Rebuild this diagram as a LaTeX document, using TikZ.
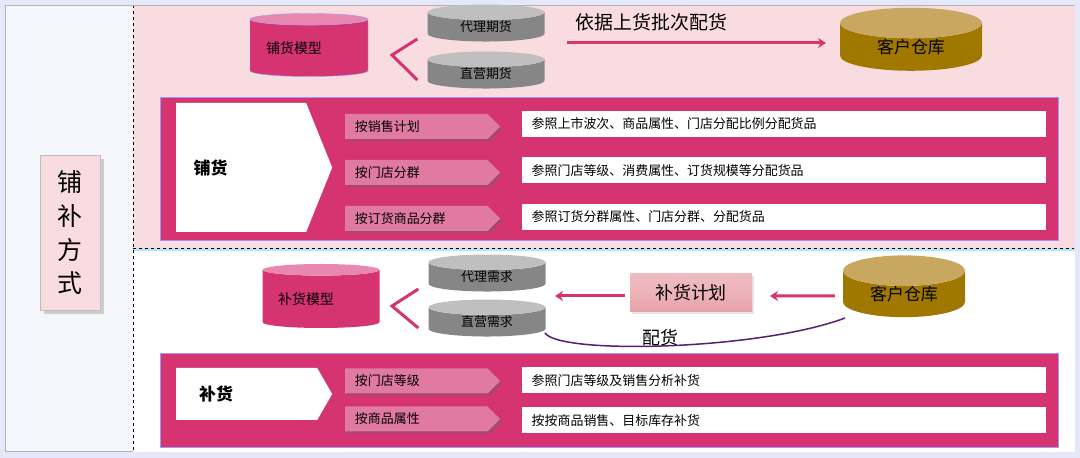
\documentclass[tikz,border=0pt]{standalone}
\usepackage{fontspec}
\setmainfont{Noto Sans CJK SC}
\usetikzlibrary{shapes.geometric,shapes.symbols,arrows.meta,shadows}
\definecolor{bg}{HTML}{E4E8F8}
\definecolor{toppink}{HTML}{F9DCE0}
\definecolor{band}{HTML}{D63371}
\definecolor{tab}{HTML}{E07AA0}
\definecolor{gold}{HTML}{A07800}
\definecolor{goldtop}{HTML}{C8A860}
\definecolor{pinktop}{HTML}{E888B0}
\definecolor{plan}{HTML}{E8A0A8}
\tikzset{
 cyl/.style={cylinder, shape border rotate=90, aspect=0.45, draw=none, cylinder uses custom fill, inner sep=0pt, font=\fontsize{14}{14}\selectfont},
 pinkcyl/.style={cyl, cylinder body fill=band, cylinder end fill=pinktop, draw=blue!40, thin},
 graycyl/.style={cyl, aspect=0.3, cylinder body fill=gray!95, cylinder end fill=gray!50, minimum width=117bp, font=\fontsize{13}{13}\selectfont},
 goldcyl/.style={cyl, cylinder body fill=gold, cylinder end fill=goldtop, font=\fontsize{17}{17}\selectfont},
 tabs/.style={signal, signal to=east, signal pointer angle=90, fill=tab, minimum width=155bp, minimum height=25bp, inner sep=0pt, anchor=west, text width=135bp, font=\fontsize{13}{13}\selectfont, drop shadow={shadow xshift=2bp, shadow yshift=-2bp, fill=black!60}},
 wbox/.style={fill=white, minimum width=524bp, minimum height=26bp, anchor=west, inner sep=0pt, text width=505bp, font=\fontsize{13}{13}\selectfont},
 pent/.style={signal, signal to=east, fill=white, inner sep=0pt, anchor=west, minimum width=156bp, text width=125bp, font=\bfseries\fontsize{17}{17}\selectfont},
 pkarrow/.style={draw=band, line width=3bp, -{Stealth[length=8bp,width=10bp]}},
 chev/.style={draw=band, line width=3bp},
}
\begin{document}
\begin{tikzpicture}[x=1bp,y=-1bp]
\useasboundingbox (0,0) rectangle (1080,458);
\fill[bg] (0,0) rectangle (1080,458);
\node[fill=white!60!bg, draw=gray!60, minimum width=128bp, minimum height=446bp, anchor=north west, inner sep=0pt] (left) at (5,5) {};
\node[fill=toppink, draw=gray!50, minimum width=60bp, minimum height=155bp, anchor=north west, drop shadow={shadow xshift=4bp, shadow yshift=-4bp, fill=gray!70}, text width=30bp, align=center, font=\fontsize{25}{34}\selectfont] (label) at (40,155) {铺\\补\\方\\式};
% sections
\node[fill=toppink, minimum width=942bp, minimum height=243bp, anchor=north west, inner sep=0pt] (top) at (133,5) {};
\fill[white] (133,250) rectangle (1075,452);
\draw[cyan!30, line width=3bp] (133,249.5) -- (1075,249.5);
\draw[dashed, thick] (133,248) -- (1075,248);
\draw[dashed, thick] (133,5) -- (133,452);
\draw[gray!60] (133,5) -- (1075,5);
% top diagram
\node[pinkcyl, minimum width=118bp, minimum height=63bp] (pm) at (309,48) {\hspace*{-30bp}铺货模型};
\node[graycyl, minimum height=37bp] (dq) at (486,27) {代理期货};
\node[graycyl, minimum height=37bp] (zq) at (486,74) {直营期货};
\coordinate (c1) at (392,55);
\draw[chev] (dq.west) ++(-10,12) -- (c1) -- ([xshift=-10bp,yshift=-6bp]zq.west);
\node[goldcyl, minimum width=142bp, minimum height=63bp] (kc1) at (911,47) {客户仓库};
\node[font=\fontsize{19}{19}\selectfont, anchor=west] (t1) at (572,22) {依据上货批次配货};
\coordinate (a1s) at (567,43);
\coordinate (a1e) at (826,43);
\draw[pkarrow] (a1s) -- (a1e);
% top band
\node[fill=band, draw=blue!40, minimum width=898bp, minimum height=143bp, anchor=north west, inner sep=0pt] (band1) at (160,97) {};
\node[pent, signal pointer angle=136, minimum height=129bp] (ph) at (176,167.5) {\hspace*{15bp}铺货};
\node[tabs] (t11) at (345,126.5) {\hspace*{6bp}按销售计划};
\node[tabs] (t12) at (345,172.5) {\hspace*{6bp}按门店分群};
\node[tabs] (t13) at (345,218.5) {\hspace*{6bp}按订货商品分群};
\node[wbox] (w11) at (522,124) {参照上市波次、商品属性、门店分配比例分配货品};
\node[wbox] (w12) at (522,170.5) {参照门店等级、消费属性、订货规模等分配货品};
\node[wbox] (w13) at (522,217) {参照订货分群属性、门店分群、分配货品};
% bottom diagram
\node[pinkcyl, minimum width=117bp, minimum height=64bp, draw=none] (bm) at (321,299) {\hspace*{-30bp}补货模型};
\node[graycyl, minimum height=37bp] (dx) at (487,277) {代理需求};
\node[graycyl, minimum height=37bp] (zx) at (487,322) {直营需求};
\coordinate (c2) at (392,306);
\draw[chev] (dx.west) ++(-10,12) -- (c2) -- ([xshift=-10bp,yshift=-6bp]zx.west);
\node[top color=plan!70, bottom color=plan, middle color=plan!80, minimum width=122bp, minimum height=38bp, inner sep=0pt, font=\fontsize{18}{18}\selectfont, drop shadow={shadow xshift=2bp, shadow yshift=-2bp, fill=gray!40}] (bh) at (691,293) {补货计划};
\node[goldcyl, minimum width=122bp, minimum height=58bp] (kc2) at (904,294) {客户仓库};
\draw[pkarrow] (bh.west) ++(-5,3) -- (555,296);
\draw[pkarrow] (kc2.west) ++(-8,2) -- (770,296);
\draw[draw={rgb,255:red,90;green,30;blue,110}, line width=1.5bp] (545,333) .. controls (560,355) and (760,350) .. (845,318);
\node[font=\fontsize{18}{18}\selectfont] (ph2) at (660,338) {配货};
% bottom band
\node[fill=band, draw=blue!40, minimum width=898bp, minimum height=94bp, anchor=north west, inner sep=0pt] (band2) at (160,353) {};
\node[pent, signal pointer angle=120, minimum height=52bp] (bh2) at (176,394) {\hspace*{15bp}补货};
\node[tabs] (t21) at (345,381) {\hspace*{6bp}按门店等级};
\node[tabs] (t22) at (345,419) {\hspace*{6bp}按商品属性};
\node[wbox] (w21) at (522,380.5) {参照门店等级及销售分析补货};
\node[wbox] (w22) at (522,420.5) {按按商品销售、目标库存补货};
\end{tikzpicture}
\end{document}
